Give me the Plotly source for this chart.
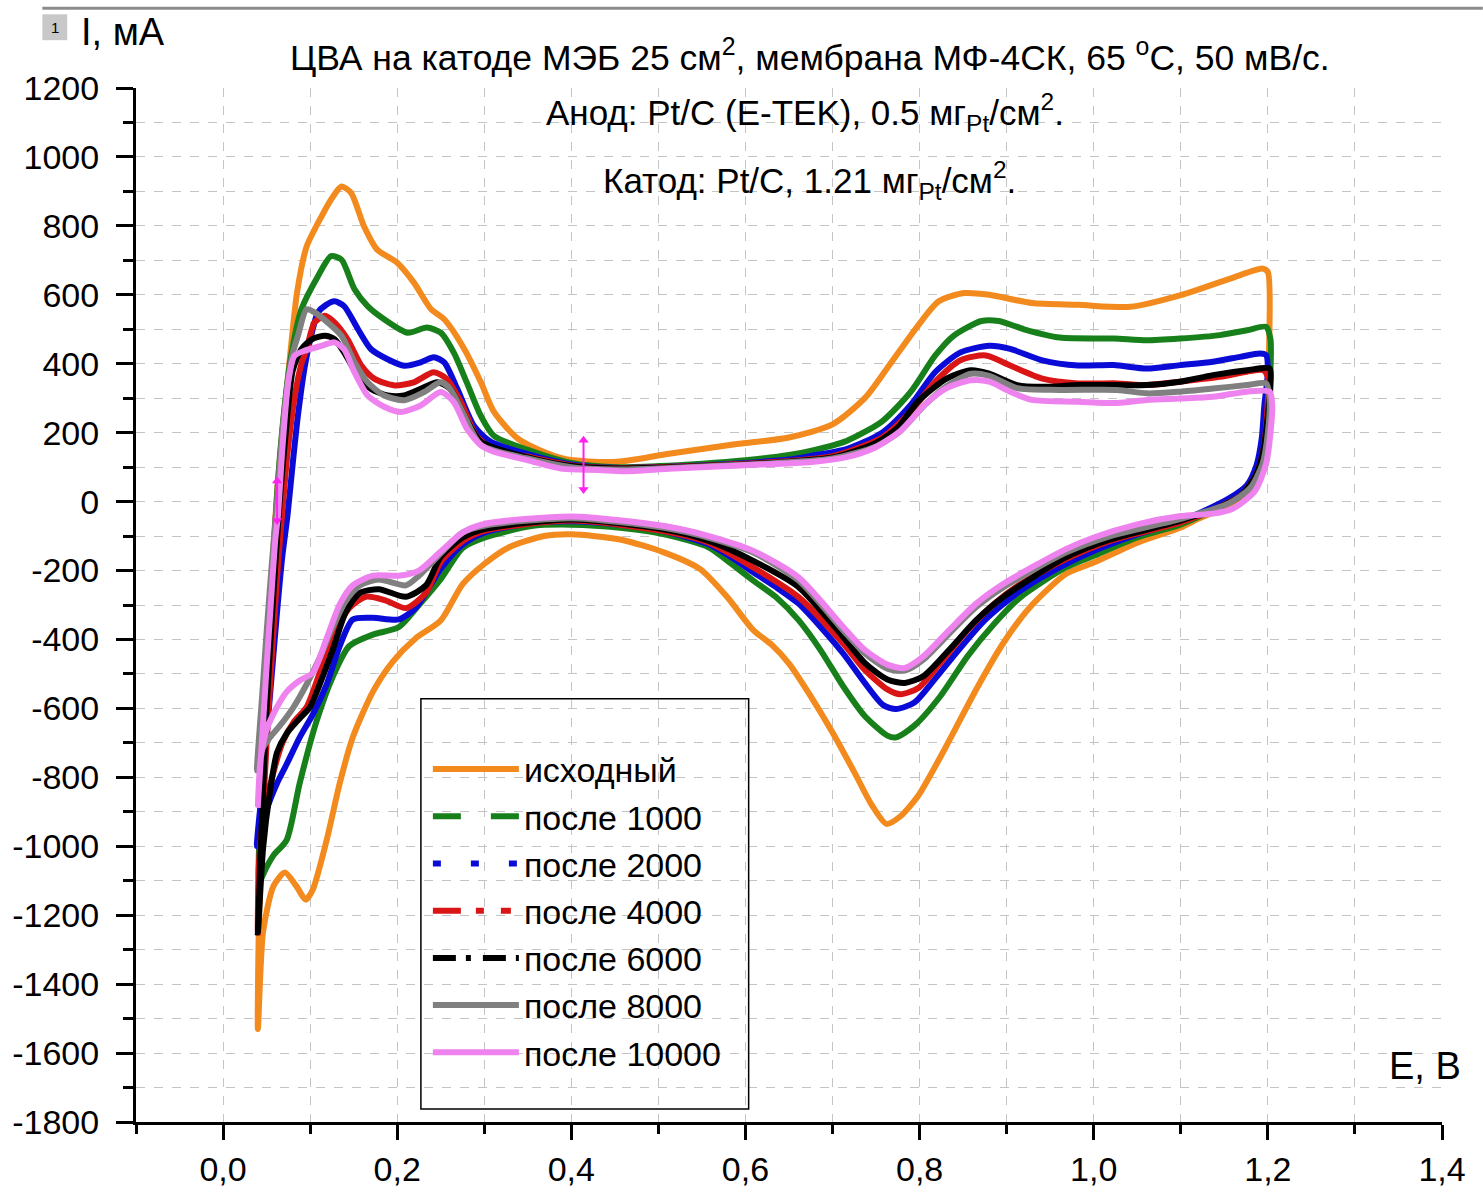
import plotly.graph_objects as go

# ---------------- data ----------------
SERIES_NAMES = ["исходный", "после 1000", "после 2000", "после 4000",
                "после 6000", "после 8000", "после 10000"]

# исходный
E_up_0 = [0.040, 0.041, 0.046, 0.052, 0.058, 0.063, 0.068, 0.074, 0.085, 0.096, 0.113, 0.125, 0.136, 0.147, 0.162, 0.177, 0.200, 0.219, 0.239, 0.254, 0.277, 0.296, 0.311, 0.340, 0.390, 0.450, 0.510, 0.590, 0.650, 0.700, 0.737, 0.765, 0.798, 0.822, 0.851, 0.880, 0.929, 0.982, 1.042, 1.100, 1.157, 1.194, 1.200]
I_up_0 = [-1530, -1250, -800, -450, -130, 58, 200, 347, 607, 740, 827, 880, 914, 896, 798, 731, 693, 636, 558, 529, 443, 347, 261, 180, 125, 115, 138, 167, 186, 224, 300, 395, 510, 581, 605, 600, 576, 571, 565, 599, 647, 676, 666]
E_dn_0 = [1.201, 1.199, 1.192, 1.178, 1.158, 1.142, 1.120, 1.100, 1.050, 1.000, 0.968, 0.927, 0.896, 0.865, 0.829, 0.799, 0.778, 0.762, 0.745, 0.725, 0.700, 0.675, 0.650, 0.630, 0.609, 0.579, 0.548, 0.507, 0.456, 0.400, 0.369, 0.328, 0.300, 0.275, 0.250, 0.221, 0.195, 0.172, 0.149, 0.134, 0.119, 0.103, 0.095, 0.084, 0.071, 0.058, 0.046, 0.040]
I_dn_0 = [400, 200, 90, 25, -10, -27, -50, -75, -119, -177, -210, -306, -411, -545, -717, -851, -913, -935, -880, -785, -670, -565, -470, -415, -373, -277, -196, -148, -110, -95, -100, -133, -181, -240, -345, -397, -464, -552, -684, -817, -982, -1126, -1155, -1115, -1076, -1115, -1247, -1530]

# после 1000
E_up_1 = [0.042, 0.048, 0.055, 0.062, 0.070, 0.078, 0.090, 0.109, 0.124, 0.136, 0.151, 0.166, 0.185, 0.212, 0.234, 0.250, 0.265, 0.280, 0.296, 0.311, 0.350, 0.400, 0.450, 0.500, 0.550, 0.600, 0.650, 0.676, 0.716, 0.757, 0.790, 0.818, 0.839, 0.871, 0.891, 0.920, 0.961, 1.023, 1.061, 1.099, 1.145, 1.176, 1.198]
I_up_1 = [-1100, -650, -300, 20, 260, 420, 558, 654, 712, 702, 616, 567, 529, 490, 505, 490, 432, 345, 249, 191, 150, 112, 100, 103, 110, 120, 135, 148, 176, 233, 319, 424, 481, 524, 524, 500, 476, 473, 468, 473, 483, 497, 507]
E_dn_1 = [1.203, 1.203, 1.200, 1.195, 1.185, 1.165, 1.140, 1.100, 1.050, 1.000, 0.968, 0.916, 0.886, 0.855, 0.824, 0.794, 0.773, 0.763, 0.737, 0.712, 0.686, 0.661, 0.635, 0.609, 0.584, 0.558, 0.507, 0.456, 0.400, 0.354, 0.300, 0.275, 0.250, 0.225, 0.202, 0.172, 0.145, 0.126, 0.107, 0.088, 0.073, 0.058, 0.050, 0.042]
I_dn_1 = [470, 380, 250, 150, 70, 15, -20, -66, -104, -157, -191, -277, -354, -449, -564, -650, -684, -679, -622, -535, -430, -344, -277, -229, -181, -133, -95, -76, -67, -71, -105, -135, -225, -300, -364, -386, -419, -508, -640, -817, -982, -1026, -1060, -1100]

# после 2000
E_up_2 = [0.039, 0.045, 0.050, 0.056, 0.062, 0.068, 0.074, 0.080, 0.086, 0.094, 0.102, 0.109, 0.118, 0.128, 0.139, 0.155, 0.170, 0.189, 0.208, 0.227, 0.242, 0.254, 0.269, 0.288, 0.307, 0.350, 0.400, 0.450, 0.500, 0.550, 0.600, 0.650, 0.676, 0.716, 0.757, 0.790, 0.818, 0.847, 0.880, 0.904, 0.941, 0.982, 1.023, 1.061, 1.099, 1.137, 1.168, 1.191, 1.198]
I_up_2 = [-1000, -830, -680, -500, -320, -160, -40, 110, 250, 394, 490, 549, 570, 581, 567, 500, 442, 413, 394, 404, 419, 404, 327, 220, 174, 138, 108, 98, 100, 105, 112, 122, 133, 152, 200, 281, 376, 433, 452, 443, 410, 395, 396, 386, 396, 406, 420, 430, 425]
E_dn_2 = [1.200, 1.196, 1.193, 1.187, 1.176, 1.156, 1.137, 1.100, 1.050, 1.000, 0.968, 0.916, 0.875, 0.845, 0.814, 0.794, 0.773, 0.758, 0.737, 0.712, 0.686, 0.661, 0.635, 0.609, 0.584, 0.558, 0.507, 0.456, 0.400, 0.354, 0.300, 0.275, 0.250, 0.221, 0.202, 0.172, 0.149, 0.134, 0.119, 0.103, 0.088, 0.073, 0.062, 0.050, 0.039]
I_dn_2 = [377, 280, 184, 106, 48, 10, -15, -56, -95, -143, -181, -258, -344, -430, -526, -583, -602, -590, -526, -440, -363, -296, -248, -205, -162, -124, -86, -67, -57, -62, -90, -125, -195, -309, -342, -337, -342, -419, -530, -618, -684, -762, -817, -894, -1000]

# после 4000
E_up_3 = [0.040, 0.045, 0.050, 0.056, 0.062, 0.068, 0.074, 0.082, 0.090, 0.096, 0.105, 0.117, 0.128, 0.143, 0.159, 0.174, 0.197, 0.219, 0.242, 0.257, 0.273, 0.291, 0.311, 0.350, 0.400, 0.450, 0.500, 0.550, 0.600, 0.650, 0.700, 0.757, 0.790, 0.818, 0.847, 0.876, 0.904, 0.941, 0.982, 1.027, 1.061, 1.099, 1.145, 1.176, 1.195]
I_up_3 = [-1250, -950, -700, -450, -220, -30, 140, 300, 400, 442, 520, 539, 520, 471, 394, 356, 337, 346, 375, 356, 289, 191, 150, 130, 105, 97, 100, 104, 110, 118, 132, 186, 262, 348, 410, 424, 395, 357, 343, 343, 338, 348, 362, 377, 381]
E_dn_3 = [1.200, 1.199, 1.195, 1.187, 1.170, 1.145, 1.100, 1.019, 0.968, 0.916, 0.886, 0.855, 0.824, 0.799, 0.778, 0.763, 0.737, 0.712, 0.661, 0.609, 0.558, 0.507, 0.400, 0.300, 0.275, 0.250, 0.233, 0.210, 0.187, 0.164, 0.145, 0.126, 0.111, 0.096, 0.081, 0.069, 0.058, 0.046, 0.041, 0.040]
I_dn_3 = [360, 250, 150, 80, 20, -15, -60, -114, -167, -239, -296, -373, -468, -540, -559, -545, -488, -411, -277, -191, -119, -86, -55, -85, -115, -175, -265, -309, -287, -276, -309, -397, -497, -596, -640, -695, -784, -927, -1060, -1250]

# после 6000
E_up_4 = [0.040, 0.045, 0.050, 0.057, 0.065, 0.072, 0.080, 0.090, 0.102, 0.117, 0.128, 0.139, 0.155, 0.170, 0.189, 0.208, 0.227, 0.246, 0.261, 0.277, 0.296, 0.350, 0.400, 0.450, 0.500, 0.550, 0.600, 0.650, 0.700, 0.750, 0.775, 0.798, 0.831, 0.859, 0.880, 0.912, 0.941, 0.982, 1.027, 1.061, 1.099, 1.137, 1.176, 1.202]
I_up_4 = [-1250, -900, -600, -300, 0, 200, 380, 442, 471, 481, 471, 433, 365, 327, 308, 308, 327, 346, 327, 250, 174, 128, 103, 96, 98, 103, 108, 116, 128, 170, 215, 290, 357, 381, 371, 338, 333, 338, 338, 338, 348, 367, 381, 386]
E_dn_4 = [1.203, 1.200, 1.195, 1.187, 1.170, 1.145, 1.100, 1.019, 0.968, 0.896, 0.865, 0.834, 0.804, 0.783, 0.763, 0.737, 0.712, 0.661, 0.609, 0.558, 0.507, 0.400, 0.300, 0.275, 0.250, 0.233, 0.210, 0.179, 0.157, 0.141, 0.126, 0.111, 0.100, 0.088, 0.073, 0.062, 0.054, 0.046, 0.040]
I_dn_4 = [340, 250, 150, 80, 20, -15, -55, -110, -162, -277, -344, -430, -507, -526, -516, -468, -392, -248, -172, -114, -81, -52, -80, -105, -160, -243, -276, -254, -265, -320, -430, -530, -596, -629, -673, -728, -839, -1004, -1250]

# после 8000
E_up_5 = [0.039, 0.045, 0.050, 0.056, 0.062, 0.070, 0.080, 0.086, 0.096, 0.105, 0.120, 0.136, 0.151, 0.166, 0.185, 0.208, 0.231, 0.250, 0.261, 0.277, 0.296, 0.350, 0.400, 0.450, 0.500, 0.550, 0.600, 0.650, 0.700, 0.750, 0.778, 0.806, 0.831, 0.859, 0.880, 0.912, 0.961, 1.027, 1.061, 1.099, 1.137, 1.176, 1.198]
I_up_5 = [-780, -560, -380, -180, 0, 250, 430, 481, 558, 549, 520, 481, 404, 346, 308, 294, 318, 346, 327, 250, 165, 125, 100, 93, 96, 102, 107, 114, 125, 160, 205, 281, 335, 371, 365, 329, 324, 324, 314, 319, 328, 338, 343]
E_dn_5 = [1.202, 1.200, 1.194, 1.180, 1.155, 1.100, 1.019, 0.968, 0.896, 0.865, 0.834, 0.804, 0.783, 0.763, 0.737, 0.712, 0.661, 0.609, 0.558, 0.507, 0.400, 0.300, 0.275, 0.250, 0.225, 0.210, 0.179, 0.157, 0.141, 0.126, 0.111, 0.096, 0.081, 0.065, 0.054, 0.043, 0.039]
I_dn_5 = [300, 200, 110, 40, -5, -50, -100, -148, -249, -306, -383, -459, -490, -485, -440, -373, -229, -148, -105, -76, -48, -70, -90, -150, -215, -243, -226, -243, -287, -364, -453, -530, -596, -651, -684, -728, -780]

# после 10000
E_up_6 = [0.040, 0.045, 0.050, 0.055, 0.060, 0.063, 0.068, 0.075, 0.082, 0.094, 0.113, 0.128, 0.139, 0.151, 0.166, 0.185, 0.204, 0.227, 0.250, 0.265, 0.280, 0.296, 0.311, 0.350, 0.390, 0.431, 0.460, 0.512, 0.594, 0.676, 0.716, 0.749, 0.778, 0.806, 0.831, 0.859, 0.880, 0.904, 0.929, 0.982, 1.027, 1.061, 1.099, 1.137, 1.176, 1.202]
I_up_6 = [-880, -680, -480, -290, -110, -40, 150, 350, 423, 438, 452, 462, 442, 375, 308, 275, 260, 279, 318, 289, 212, 164, 145, 120, 95, 92, 88, 95, 105, 115, 129, 157, 205, 281, 329, 352, 348, 319, 295, 290, 286, 295, 299, 304, 319, 319]
E_dn_6 = [1.205, 1.203, 1.198, 1.185, 1.160, 1.137, 1.100, 1.050, 1.000, 0.968, 0.896, 0.865, 0.834, 0.804, 0.783, 0.763, 0.737, 0.712, 0.661, 0.609, 0.558, 0.507, 0.400, 0.300, 0.275, 0.250, 0.225, 0.202, 0.172, 0.149, 0.134, 0.119, 0.103, 0.088, 0.073, 0.062, 0.050, 0.043, 0.040]
I_dn_6 = [280, 200, 110, 30, -20, -35, -42, -66, -104, -138, -239, -296, -373, -450, -483, -473, -430, -363, -220, -143, -100, -71, -43, -65, -90, -145, -200, -215, -215, -243, -298, -397, -497, -519, -552, -596, -662, -751, -880]

# cursor marks (magenta)
MARK_E = [0.062, 0.414]
MARK_LO = [-55, 35]
MARK_HI = [60, 178]

X_TICKS = [0.0, 0.2, 0.4, 0.6, 0.8, 1.0, 1.2, 1.4]
X_TICKTEXT = ["0,0", "0,2", "0,4", "0,6", "0,8", "1,0", "1,2", "1,4"]
Y_TICKS = list(range(-1800, 1201, 200))
Y_TICKTEXT = [str(v) for v in Y_TICKS]

# ---------------- styles ----------------
COLORS = ["#F28A1E", "#17801B", "#0B0BD8", "#DA1515", "#000000", "#808080", "#EE82EE"]
LEG_DASH = ["solid", "28px,30px", "8px,30px", "28px,15px,8px,17px,10px,20px",
            "23px,10px,5px,12px", "solid", "solid"]

E_UP = [E_up_0, E_up_1, E_up_2, E_up_3, E_up_4, E_up_5, E_up_6]
I_UP = [I_up_0, I_up_1, I_up_2, I_up_3, I_up_4, I_up_5, I_up_6]
E_DN = [E_dn_0, E_dn_1, E_dn_2, E_dn_3, E_dn_4, E_dn_5, E_dn_6]
I_DN = [I_dn_0, I_dn_1, I_dn_2, I_dn_3, I_dn_4, I_dn_5, I_dn_6]

FONT = "Liberation Sans, Arial, sans-serif"

fig = go.Figure()
for k in range(7):
    fig.add_trace(go.Scatter(
        x=E_UP[k] + E_DN[k], y=I_UP[k] + I_DN[k], mode="lines",
        line=dict(color=COLORS[k], width=6, shape="spline", smoothing=0.7),
        showlegend=False, hoverinfo="skip"))

# magenta cursor marks
for j in range(len(MARK_E)):
    fig.add_trace(go.Scatter(
        x=[MARK_E[j], MARK_E[j]], y=[MARK_LO[j], MARK_HI[j]],
        mode="lines+markers",
        line=dict(color="#FF22EE", width=2),
        marker=dict(symbol=["triangle-down", "triangle-up"], size=9, color="#FF22EE"),
        showlegend=False, hoverinfo="skip"))

# legend entries
for k in range(7):
    fig.add_trace(go.Scatter(
        x=[None], y=[None], mode="lines", name=SERIES_NAMES[k],
        line=dict(color=COLORS[k], width=6, dash=LEG_DASH[k]),
        legendgroup=str(k)))

def px(xp):
    return (xp - 131) / 1311.0

def py(yp):
    return (1126 - yp) / 1038.0

grid_col = "#c4c4c4"
fig.update_layout(
    width=1483, height=1200,
    margin=dict(l=131, r=41, t=88, b=74),
    paper_bgcolor="white", plot_bgcolor="white",
    font=dict(family=FONT, color="black", size=34),
    showlegend=True,
    legend=dict(
        x=px(424), y=py(743), xanchor="left", yanchor="top",
        bgcolor="rgba(0,0,0,0)", borderwidth=0,
        font=dict(size=34, family=FONT, color="black"),
        itemwidth=86, traceorder="grouped", tracegroupgap=0,
    ),
    xaxis=dict(
        range=[-0.1, 1.4], tickmode="array", tickvals=X_TICKS, ticktext=X_TICKTEXT,
        showline=True, linecolor="black", linewidth=3,
        ticks="outside", ticklen=15, tickwidth=3, tickcolor="black",
        showgrid=True, gridcolor=grid_col, gridwidth=1, griddash="dash",
        zeroline=False, tickfont=dict(size=34),
        minor=dict(tickmode="linear", tick0=-0.1, dtick=0.1, ticks="outside", ticklen=9,
                   tickwidth=3, tickcolor="black", showgrid=True, gridcolor=grid_col,
                   gridwidth=1, griddash="dash"),
    ),
    yaxis=dict(
        range=[-1800, 1200], tickmode="array", tickvals=Y_TICKS, ticktext=Y_TICKTEXT,
        showline=True, linecolor="black", linewidth=3,
        ticks="outside", ticklen=17, tickwidth=3, tickcolor="black",
        showgrid=True, gridcolor=grid_col, gridwidth=1, griddash="dash",
        zeroline=False, tickfont=dict(size=34), ticklabelstandoff=10,
        minor=dict(tickmode="linear", tick0=-1800, dtick=100, ticks="outside", ticklen=10,
                   tickwidth=3, tickcolor="black", showgrid=True, gridcolor=grid_col,
                   gridwidth=1, griddash="dash"),
    ),
)

shapes = [
    # legend frame
    dict(type="rect", xref="paper", yref="paper", x0=px(417), x1=px(746),
         y0=py(1113), y1=py(701), line=dict(color="black", width=1.5), fillcolor="rgba(0,0,0,0)"),
    # top window line
    dict(type="line", xref="paper", yref="paper", x0=px(37), x1=px(1483), y0=py(8), y1=py(8),
         line=dict(color="#8c8c8c", width=3)),
    # layer badge
    dict(type="rect", xref="paper", yref="paper", x0=px(37), x1=px(62), y0=py(40), y1=py(14),
         line=dict(width=0), fillcolor="#c8c8c8"),
]
fig.update_layout(shapes=shapes)

ann = [
    dict(text="1", x=px(49.5), y=py(27), font=dict(size=15)),
    dict(text="I, мА", x=px(74), y=py(32), xanchor="left", font=dict(size=38)),
    dict(text="E, В", x=px(1425), y=py(1070), font=dict(size=38)),
    dict(text="ЦВА на катоде МЭБ 25 см<sup>2</sup>, мембрана МФ-4СК, 65 <sup>o</sup>C, 50 мВ/с.",
         x=px(808), y=py(55), font=dict(size=35.5)),
    dict(text="Анод: Pt/C (E-TEK), 0.5 мг<sub>Pt</sub>/см<sup>2</sup>.",
         x=px(803), y=py(113), font=dict(size=35)),
    dict(text="Катод: Pt/C, 1.21 мг<sub>Pt</sub>/см<sup>2</sup>.",
         x=px(807), y=py(181), font=dict(size=35)),
]
for a in ann:
    a.setdefault("xanchor", "center")
    a.update(xref="paper", yref="paper", yanchor="middle", showarrow=False)
    a["font"].update(family=FONT, color="black")
fig.update_layout(annotations=ann)

fig.write_html("out.html")
